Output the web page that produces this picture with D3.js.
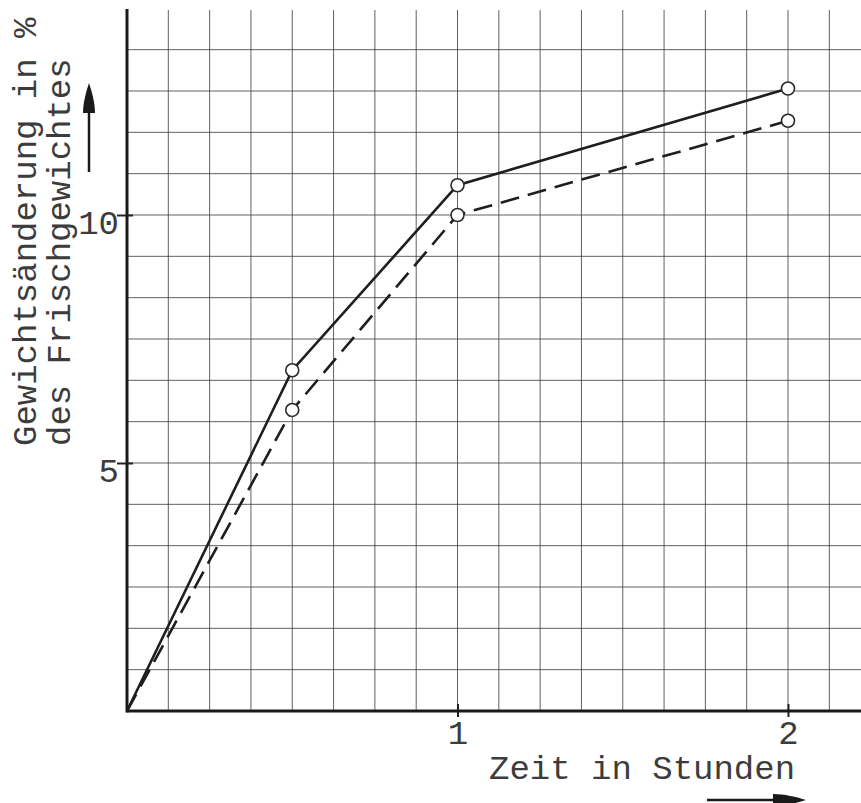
<!DOCTYPE html>
<html>
<head>
<meta charset="utf-8">
<script src="https://cdn.jsdelivr.net/npm/d3@7"></script>
<style>
  html, body { margin: 0; padding: 0; background: #fff; }
  svg { display: block; }
  text { font-family: "Liberation Mono", "DejaVu Sans Mono", monospace; fill: #3c3c3c; }
</style>
</head>
<body>
<svg id="chart"></svg>
<script>
// hours after start
const hours = [0, 0.5, 1, 2];
// weight change in % of fresh weight
const solidSeries = [0, 6.87, 10.6, 12.55];
const dashedSeries = [0, 6.07, 10.0, 11.9];

const xTicks = [1, 2];
const yTicks = [5, 10];
const xLabel = 'Zeit in Stunden';
const yLabelLines = ['Gewichtsänderung in %', 'des Frischgewichtes'];

const width = 861;
const height = 803;

const svg = d3.select('#chart')
  .attr('width', width)
  .attr('height', height);

const x = d3.scaleLinear()
  .domain([0, 2])
  .range([127, 788]);

const y = d3.scaleLinear()
  .domain([0, 10])
  .range([711, 215]);

// graph paper: 1/8 hour and 5/6 % steps
const gridX = d3.range(1, 18).map(i => i / 8);
const gridY = d3.range(1, 17).map(i => i * 5 / 6);
const yTop = y.invert(10);
const xRight = x.invert(width);

const grid = svg.append('g')
  .attr('stroke', '#3a3a3a')
  .attr('stroke-width', 1)
  .attr('stroke-opacity', 0.8);

grid.selectAll('line.v')
  .data(gridX)
  .join('line')
  .attr('class', 'v')
  .attr('x1', d => x(d))
  .attr('x2', d => x(d))
  .attr('y1', y(yTop))
  .attr('y2', y(0));

grid.selectAll('line.h')
  .data(gridY)
  .join('line')
  .attr('class', 'h')
  .attr('x1', x(0))
  .attr('x2', x(xRight))
  .attr('y1', d => y(d))
  .attr('y2', d => y(d));

// axes
const xAxis = svg.append('g')
  .attr('transform', `translate(0,${y(0)})`)
  .call(d3.axisBottom(x).tickValues(xTicks).tickSize(6).tickPadding(8).tickFormat(d3.format('d')));
xAxis.select('.domain').remove();
xAxis.selectAll('.tick line')
  .attr('y1', -7).attr('y2', 6)
  .attr('stroke', '#222').attr('stroke-width', 2);
xAxis.selectAll('.tick text')
  .attr('font-size', 34)
  .attr('dy', '0.55em')
  .attr('fill', '#3c3c3c')
  .attr('font-family', '"Liberation Mono", monospace');

const yAxis = svg.append('g')
  .attr('transform', `translate(${x(0)},0)`)
  .call(d3.axisLeft(y).tickValues(yTicks).tickSize(10).tickPadding(0).tickFormat(d3.format('d')));
yAxis.select('.domain').remove();
yAxis.selectAll('.tick line')
  .attr('x1', 6).attr('x2', -10)
  .attr('stroke', '#222').attr('stroke-width', 2);
yAxis.selectAll('.tick text')
  .attr('font-size', 34)
  .attr('dy', '0.55em')
  .attr('x', -8)
  .attr('fill', '#3c3c3c')
  .attr('font-family', '"Liberation Mono", monospace');

svg.append('line')
  .attr('x1', x(0)).attr('x2', x(xRight))
  .attr('y1', y(0)).attr('y2', y(0))
  .attr('stroke', '#1a1a1a').attr('stroke-width', 3);

svg.append('line')
  .attr('x1', x(0)).attr('x2', x(0))
  .attr('y1', y(yTop) - 1).attr('y2', y(0) + 1.5)
  .attr('stroke', '#1a1a1a').attr('stroke-width', 3);

// curves
const line = d3.line()
  .x(d => x(d[0]))
  .y(d => y(d[1]));

const series = [
  { values: solidSeries, dash: null },
  { values: dashedSeries, dash: '19,9' }
];

series.forEach(s => {
  const pts = hours.map((h, i) => [h, s.values[i]]);
  svg.append('path')
    .datum(pts)
    .attr('fill', 'none')
    .attr('stroke', '#1e1e1e')
    .attr('stroke-width', 2.6)
    .attr('stroke-dasharray', s.dash)
    .attr('d', line);

  svg.append('g')
    .selectAll('circle')
    .data(pts.slice(1))
    .join('circle')
    .attr('cx', d => x(d[0]))
    .attr('cy', d => y(d[1]))
    .attr('r', 6.5)
    .attr('fill', '#fff')
    .attr('stroke', '#2a2a2a')
    .attr('stroke-width', 1.6);
});

// labels
svg.append('text')
  .attr('x', 489)
  .attr('y', 779)
  .attr('font-size', 34)
  .text(xLabel);

const yLab = svg.append('text')
  .attr('transform', 'translate(0,446) rotate(-90)')
  .attr('font-size', 34);
yLab.selectAll('tspan')
  .data(yLabelLines)
  .join('tspan')
  .attr('x', 0)
  .attr('y', (d, i) => 36 + i * 34)
  .text(d => d);

// direction arrows
svg.append('line')
  .attr('x1', 89).attr('x2', 89)
  .attr('y1', 172).attr('y2', 108)
  .attr('stroke', '#1a1a1a').attr('stroke-width', 2.5);
svg.append('path')
  .attr('d', 'M89,83 C92,92 95,103 95,113 L83,113 C83,103 86,92 89,83 Z')
  .attr('fill', '#1a1a1a');

svg.append('line')
  .attr('x1', 707).attr('x2', 780)
  .attr('y1', 800).attr('y2', 800)
  .attr('stroke', '#1a1a1a').attr('stroke-width', 2.5);
svg.append('path')
  .attr('d', 'M806,800 C797,803 784,806 773,806 L773,794 C784,794 797,797 806,800 Z')
  .attr('fill', '#1a1a1a');
</script>
</body>
</html>
